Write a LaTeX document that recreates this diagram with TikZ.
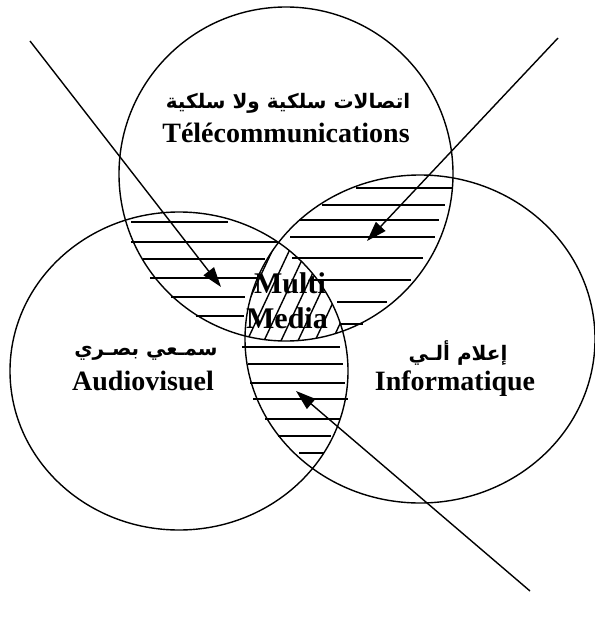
\documentclass[tikz,border=0pt]{standalone}
\usepackage{fontspec}
\setmainfont{Liberation Serif}
\newfontfamily\arabicfont[Script=Arabic]{DejaVu Sans}
\TeXXeTstate=1
\usetikzlibrary{arrows.meta}
\begin{document}
\begin{tikzpicture}[x=1pt,y=-1pt,
  ring/.style={line width=1.4pt},
  hatch/.style={line width=1.8pt},
  diag/.style={line width=1.4pt},
  pointer/.style={line width=1.4pt,-{Triangle[length=20pt,width=13pt]}},
  latin/.style={font=\fontsize{28}{30}\selectfont\bfseries,inner sep=0pt},
  arab/.style={font=\fontsize{20}{23}\selectfont\arabicfont\bfseries,inner sep=0pt}]
\useasboundingbox (0,0) rectangle (594,639);

% the three sets
\def\telecom{(286,174) ellipse [x radius=167pt, y radius=167pt]}
\def\audio{(179,371) ellipse [x radius=169pt, y radius=159pt]}
\def\info{(420,339) ellipse [x radius=175pt, y radius=164pt]}
\draw[ring] \telecom;
\draw[ring] \audio;
\draw[ring] \info;

% horizontal hatching: telecom & audio
\foreach \y/\a/\b in {222/131/228, 242/131/278, 259/143/265, 278/150/258, 297/171/245, 316/196/244}
  \draw[hatch] (\a,\y) -- (\b,\y);
% horizontal hatching: telecom & informatique
\foreach \y/\a/\b in {188/356/453, 205/322/445, 220/299/439, 237/290/435, 258/292/423, 280/314/411, 302/337/387, 324/341/363}
  \draw[hatch] (\a,\y) -- (\b,\y);
% horizontal hatching: audio & informatique
\foreach \y/\a/\b in {347/242/340, 364/248/343, 383/250/345, 399/253/348, 419/265/340, 436/278/331, 453/299/324}
  \draw[hatch] (\a,\y) -- (\b,\y);

% oblique hatching of the common part
\begin{scope}
  \clip \telecom;
  \clip \audio;
  \clip \info;
  \foreach \x in {170,187,...,370}
    \draw[diag] (\x,360) -- (\x+61,230);
\end{scope}

% labels
\node[arab] (telAr) at (288,103) {\beginR اتصالات سلكية ولا سلكية\endR};
\node[latin,anchor=base] (telFr) at (286,143) {Télécommunications};
\node[arab] (audAr) at (146,353) {\beginR سمـعي بصـري\endR};
\node[latin,anchor=base] (audFr) at (143,390) {Audiovisuel};
\node[arab] (infAr) at (458,353) {\beginR إعلام ألـي\endR};
\node[latin,anchor=base] (infFr) at (455,390) {Informatique};
\node[latin,font=\fontsize{30}{32}\selectfont\bfseries,anchor=base] (multi) at (290,293) {Multi};
\node[latin,font=\fontsize{30}{32}\selectfont\bfseries,anchor=base] (media) at (287,328) {Media};

% pointers into the overlaps
\coordinate (pA) at (30,41);
\coordinate (tA) at (221,287);
\coordinate (pB) at (558,38);
\coordinate (tB) at (367,241);
\coordinate (pC) at (530,591);
\coordinate (tC) at (296,391);
\draw[pointer] (pA) -- (tA);
\draw[pointer] (pB) -- (tB);
\draw[pointer] (pC) -- (tC);
\end{tikzpicture}
\end{document}
